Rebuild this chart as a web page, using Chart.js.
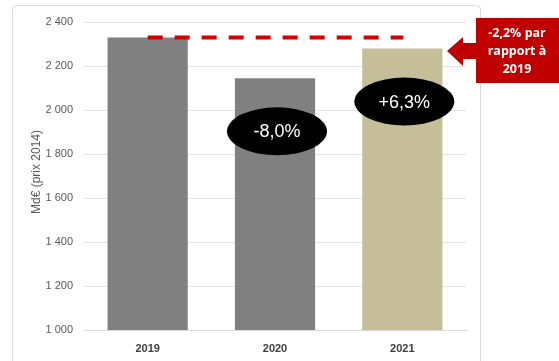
<!DOCTYPE html>
<html>
<head>
<meta charset="utf-8">
<script src="https://cdn.jsdelivr.net/npm/chart.js@4"></script>
<style>
  html, body { margin: 0; padding: 0; background: #fff; }
  #wrap { width: 559px; height: 361px; }
</style>
</head>
<body>
<div id="wrap"><canvas id="pibChart" width="559" height="361"></canvas></div>
<script>
const years = ['2019', '2020', '2021'];
const volumes = [2330, 2144, 2279];
const barColors = ['#808080', '#808080', '#c5be98'];
const changeLabels = [null, '-8,0%', '+6,3%'];
const yMin = 1000, yMax = 2400, yStep = 200;
const yTitle = 'Md€ (prix 2014)';
const calloutLines = ['-2,2% par', 'rapport à', '2019'];

// thousands separated with a space, French style
function fmt(v) {
    return String(v).replace(/\B(?=(\d{3})+(?!\d))/g, ' ');
}

const decorations = {
    id: 'decorations',
    beforeDraw(chart) {
        const c = chart.ctx;
        c.save();
        c.strokeStyle = '#d9d9d9';
        c.lineWidth = 1;
        c.beginPath();
        c.roundRect(12.5, 5.5, 468, 360, 4);
        c.stroke();
        c.restore();
    },
    afterDatasetsDraw(chart) {
        const c = chart.ctx;
        const x = chart.scales.x, y = chart.scales.y;
        const meta = chart.getDatasetMeta(0);

        // reference level of 2019 carried over to 2021
        const yRef = y.getPixelForValue(volumes[0]);
        c.save();
        c.strokeStyle = '#d10000';
        c.lineWidth = 4;
        c.setLineDash([15, 12]);
        c.beginPath();
        c.moveTo(x.getPixelForValue(0), yRef);
        c.lineTo(x.getPixelForValue(2) + 1, yRef);
        c.stroke();
        c.restore();

        // year-on-year change bubbles
        changeLabels.forEach((txt, i) => {
            if (!txt) return;
            const bar = meta.data[i];
            const cx = bar.x + 2;
            const cy = bar.y + 53;
            c.save();
            c.fillStyle = '#000';
            c.beginPath();
            c.ellipse(cx, cy, 50, 24, 0, 0, Math.PI * 2);
            c.fill();
            c.fillStyle = '#fff';
            c.font = '18px "Liberation Sans", Arial, sans-serif';
            c.textAlign = 'center';
            c.textBaseline = 'middle';
            c.fillText(txt, cx, cy + 1);
            c.restore();
        });

        // y axis title
        c.save();
        c.translate(37, 172);
        c.rotate(-Math.PI / 2);
        c.fillStyle = '#595959';
        c.font = '12px "Liberation Sans", Arial, sans-serif';
        c.textAlign = 'center';
        c.textBaseline = 'middle';
        c.fillText(yTitle, 0, 0);
        c.restore();

        // red arrow callout
        c.save();
        c.fillStyle = '#c00000';
        c.beginPath();
        c.moveTo(447, 51);
        c.lineTo(463, 37);
        c.lineTo(463, 43);
        c.lineTo(476, 43);
        c.lineTo(476, 18);
        c.lineTo(559, 18);
        c.lineTo(559, 83);
        c.lineTo(476, 83);
        c.lineTo(476, 59);
        c.lineTo(463, 59);
        c.lineTo(463, 66);
        c.closePath();
        c.fill();
        c.fillStyle = '#fff';
        c.font = 'bold 12.5px "Open Sans", sans-serif';
        c.textAlign = 'center';
        c.textBaseline = 'middle';
        calloutLines.forEach((l, i) => c.fillText(l, 517, 33 + i * 18));
        c.restore();
    }
};

new Chart(document.getElementById('pibChart'), {
    type: 'bar',
    data: {
        labels: years,
        datasets: [{
            data: volumes,
            backgroundColor: barColors,
            borderWidth: 0,
            categoryPercentage: 1,
            barPercentage: 0.63
        }]
    },
    options: {
        responsive: false,
        animation: false,
        layout: { padding: { top: 22, right: 93, bottom: 0, left: 0 } },
        plugins: { legend: { display: false }, tooltip: { enabled: false } },
        scales: {
            x: {
                afterFit(s) { s.height = 31; },
                grid: { display: false },
                border: { color: '#d9d9d9' },
                ticks: {
                    padding: 4,
                    color: '#404040',
                    font: { family: '"Liberation Sans", Arial, sans-serif', size: 11, weight: 'bold' }
                }
            },
            y: {
                min: yMin,
                max: yMax,
                afterFit(s) { s.width = 84; },
                border: { display: false },
                grid: { color: '#e3e3e3', drawTicks: false },
                ticks: {
                    stepSize: yStep,
                    padding: 11,
                    color: '#595959',
                    font: { family: '"Liberation Sans", Arial, sans-serif', size: 11 },
                    callback: v => fmt(v)
                }
            }
        }
    },
    plugins: [decorations]
});
</script>
</body>
</html>
